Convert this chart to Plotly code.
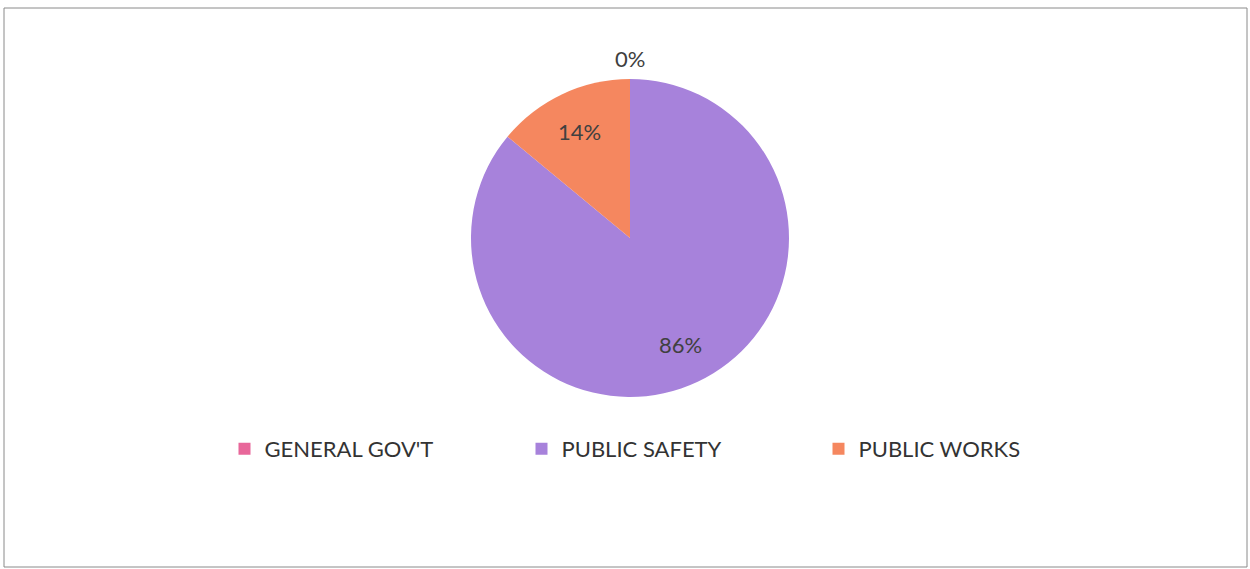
import math
import plotly.graph_objects as go

# Spending shares by department
categories = ["GENERAL GOV'T", "PUBLIC SAFETY", "PUBLIC WORKS"]
values = [0, 86, 14]
colors = ["#E8679A", "#A782DB", "#F5875F"]

W, H = 1250, 569
cx, cy, r = 630, 238, 159  # pie centre and radius in pixels

fig = go.Figure()
fig.add_trace(go.Pie(
    labels=categories,
    values=values,
    marker=dict(colors=colors, line=dict(width=0)),
    sort=False,
    direction="clockwise",
    rotation=0,
    textinfo="none",
    hoverinfo="label+percent",
    domain=dict(x=[(cx - r) / W, (cx + r) / W],
                y=[(H - cy - r) / H, (H - cy + r) / H]),
    showlegend=True,
))

# Percentage labels placed along each slice's mid-angle
total = sum(values)
start = 0.0
annotations = []
for cat, v in zip(categories, values):
    frac = v / total
    pct = f"{round(frac * 100)}%"
    mid = (start + frac / 2) * 2 * math.pi
    if v == 0:
        rr = r + 21
    else:
        rr = r * 0.74
    px = cx + rr * math.sin(mid)
    py = cy - rr * math.cos(mid)
    annotations.append(dict(
        x=px / W, y=1 - py / H, xref="paper", yref="paper",
        text=pct, showarrow=False,
        font=dict(family="Lato", size=22, color="#404040"),
        xanchor="center", yanchor="middle",
    ))
    start += frac

fig.update_layout(
    width=W, height=H,
    margin=dict(l=0, r=0, t=0, b=0),
    paper_bgcolor="white",
    plot_bgcolor="white",
    annotations=annotations,
    legend=dict(
        orientation="h",
        x=0.536, y=1 - 449 / H,
        xanchor="center", yanchor="middle",
        font=dict(family="Lato", size=22, color="#333333"),
        entrywidth=252, entrywidthmode="pixels",
        itemclick=False,
    ),
    shapes=[dict(
        type="rect", xref="paper", yref="paper",
        x0=4 / W, x1=1247 / W, y0=1 - 567 / H, y1=1 - 8 / H,
        line=dict(color="#8a8a8a", width=1),
    )],
)

fig.write_html("out.html")
